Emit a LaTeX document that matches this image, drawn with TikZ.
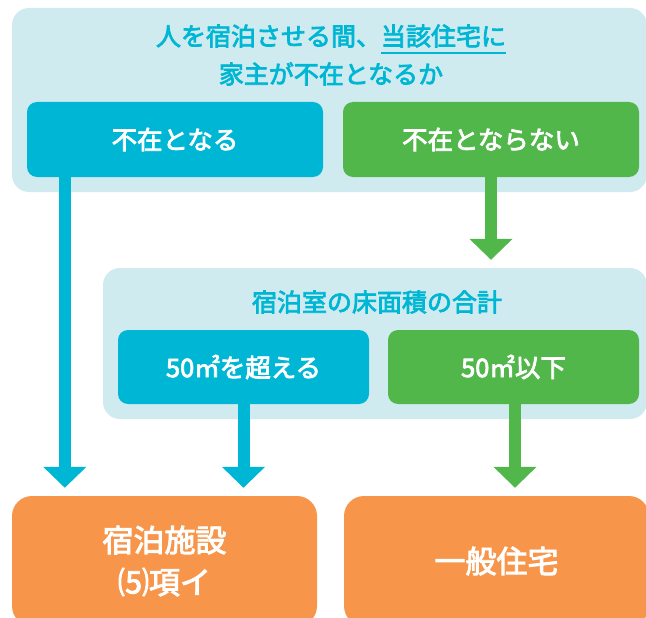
\documentclass[tikz,border=0pt]{standalone}
\usepackage{fontspec}
\setmainfont{Noto Sans CJK JP}[BoldFont={Noto Sans CJK JP}, BoldFeatures={FakeBold=3}]
\usepackage{tikz}
\usetikzlibrary{arrows.meta,positioning}

\definecolor{panelbg}{RGB}{207,235,239}
\definecolor{flowblue}{RGB}{0,182,213}
\definecolor{flowgreen}{RGB}{82,183,74}
\definecolor{floworange}{RGB}{247,150,74}

\newcommand{\jpuline}[1]{\setbox0\hbox{#1}\rlap{\color{flowblue}\rule[-8.5pt]{\wd0}{2pt}}\box0}

\tikzset{
  panel/.style={rectangle, fill=panelbg, rounded corners=17pt, inner sep=0pt},
  qtext/.style={text=flowblue, font=\bfseries\fontsize{25}{38}\selectfont, align=center},
  choice/.style={rectangle, rounded corners=10pt, inner sep=0pt, text=white,
    font=\bfseries\fontsize{25.5}{30}\selectfont},
  result/.style={rectangle, fill=floworange, rounded corners=20pt, inner sep=0pt,
    minimum width=305pt, minimum height=130pt, text=white, align=center,
    font=\bfseries\fontsize{31}{42}\selectfont},
  flow/.style={line width=12pt, -{Triangle[width=42pt,length=21pt]}, shorten >=8pt},
}

\begin{document}
\begin{tikzpicture}[x=1pt, y=-1pt]
  \useasboundingbox (0,0) rectangle (646,618);

  %first question
  \node[panel, minimum width=635pt, minimum height=184pt] (absentPanel) at (329.5,100) {};
  \node[qtext] (absentQ) at (331,55) {人を宿泊させる間、\jpuline{当該住宅に}\\家主が不在となるか};
  \node[choice, fill=flowblue, minimum width=296pt, minimum height=75pt] (absentYes) at (175,139.5) {不在となる};
  \node[choice, fill=flowgreen, minimum width=296pt, minimum height=75pt] (absentNo) at (491,139.5) {不在とならない};

  %second question
  \node[panel, minimum width=544pt, minimum height=151pt] (areaPanel) at (375,343.5) {};
  \node[qtext] (areaQ) at (377,302) {宿泊室の床面積の合計};
  \node[choice, fill=flowblue, minimum width=251pt, minimum height=74pt] (areaOver) at (243.5,367) {50㎡を超える};
  \node[choice, fill=flowgreen, minimum width=251pt, minimum height=74pt] (areaUnder) at (513.5,367) {50㎡以下};

  %results
  \node[result] (lodging) at (164.5,561) {宿泊施設\\⑸項イ};
  \node[result] (house) at (496.5,561) {一般住宅};

  \draw[flow, flowblue] ([xshift=38pt]absentYes.south west) -- ([xshift=38pt]absentYes.south west |- lodging.north);
  \draw[flow, flowgreen] (absentNo.south) -- (absentNo.south |- areaPanel.north);
  \draw[flow, flowblue] (areaOver.south) -- (areaOver.south |- lodging.north);
  \draw[flow, flowgreen] ([xshift=1.5pt]areaUnder.south) -- ([xshift=1.5pt]areaUnder.south |- house.north);
\end{tikzpicture}
\end{document}
